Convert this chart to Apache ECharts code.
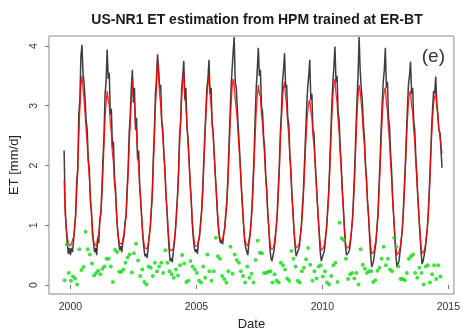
<!DOCTYPE html>
<html>
<head>
<meta charset="utf-8">
<title>US-NR1 ET estimation</title>
<script src="https://cdn.jsdelivr.net/npm/echarts@6/dist/echarts.min.js"></script>
<style>
  html, body { margin: 0; padding: 0; background: #fff; }
  #chart { width: 463px; height: 336px; }
</style>
</head>
<body>
<div id="chart"></div>
<script>
// Half-monthly ET series, starting October 1999 (24 samples per year).
const seriesStart = 1999.75;
const stepsPerYear = 24;

// Observed ET [mm/d], one row per year
const etObserved = [
  2.25, 1.3, 0.95, 0.7, 0.52, 0.62,
  0.5, 0.62, 0.55, 0.75, 0.95, 1.2, 1.75, 1.95, 2.85, 3.1, 3.83, 4.02, 3.55, 3.38, 3.1, 2.75, 2.6, 2.1, 1.95, 1.4, 1.25, 0.85, 0.7, 0.55,
  0.62, 0.5, 0.78, 0.7, 1.1, 1.2, 1.6, 2.1, 2.5, 3.2, 3.4, 3.94, 3.45, 3.55, 2.85, 2.95, 2.3, 2.4, 1.8, 1.6, 1.2, 0.9, 0.72, 0.58,
  0.65, 0.55, 0.72, 0.8, 1.05, 1.15, 1.6, 1.95, 2.55, 2.85, 3.3, 3.6, 3.05, 3.3, 2.6, 2.8, 2.1, 2.25, 1.65, 1.4, 1.1, 0.8, 0.62, 0.48,
  0.52, 0.45, 0.6, 0.8, 0.95, 1.25, 1.55, 2.15, 2.6, 3.2, 3.45, 3.86, 3.6, 3.3, 3.35, 2.75, 2.6, 2.2, 1.95, 1.5, 1.25, 0.9, 0.6, 0.4,
  0.45, 0.38, 0.55, 0.7, 0.9, 1.2, 1.5, 1.9, 2.5, 2.75, 3.3, 3.5, 3.75, 3.1, 3.3, 2.65, 2.45, 2.1, 1.7, 1.45, 1.05, 0.8, 0.62, 0.55,
  0.6, 0.52, 0.72, 0.8, 1.05, 1.25, 1.6, 2.05, 2.5, 2.9, 3.3, 3.45, 3.77, 3.2, 3.3, 2.7, 2.55, 2.2, 1.85, 1.55, 1.2, 0.95, 0.78, 0.7,
  0.75, 0.68, 0.85, 0.95, 1.2, 1.4, 1.8, 2.3, 2.8, 3.3, 3.6, 3.9, 4.15, 3.4, 3.3, 2.95, 2.6, 2.3, 1.95, 1.6, 1.3, 1.0, 0.72, 0.62,
  0.6, 0.5, 0.7, 0.8, 1.05, 1.3, 1.75, 2.2, 2.8, 3.3, 3.6, 3.97, 3.5, 3.6, 3.0, 2.9, 2.5, 2.3, 1.85, 1.6, 1.2, 0.95, 0.62, 0.45,
  0.4, 0.5, 0.58, 0.75, 0.95, 1.2, 1.6, 2.0, 2.55, 2.9, 3.4, 3.6, 3.88, 3.3, 3.35, 2.8, 2.7, 2.2, 1.95, 1.5, 1.25, 0.9, 0.65, 0.48,
  0.5, 0.58, 0.62, 0.82, 0.98, 1.3, 1.6, 2.05, 2.5, 2.95, 3.3, 3.5, 3.77, 3.1, 3.2, 2.6, 2.55, 2.1, 1.8, 1.45, 1.15, 0.85, 0.55, 0.4,
  0.42, 0.52, 0.58, 0.78, 0.95, 1.25, 1.55, 2.0, 2.5, 3.0, 3.4, 3.65, 3.99, 3.4, 3.5, 2.9, 2.75, 2.3, 2.0, 1.6, 1.3, 0.95, 0.65, 0.5,
  0.48, 0.55, 0.6, 0.75, 0.95, 1.2, 1.6, 2.05, 2.6, 3.1, 3.5, 4.15, 3.6, 3.3, 3.1, 2.7, 2.5, 2.05, 1.8, 1.4, 1.15, 0.8, 0.5, 0.3,
  0.35, 0.42, 0.58, 0.7, 0.95, 1.2, 1.65, 2.1, 2.6, 3.05, 3.4, 3.6, 3.97, 3.3, 3.4, 2.8, 2.65, 2.2, 1.9, 1.45, 1.15, 0.8, 0.5, 0.3,
  0.28, 0.4, 0.55, 0.72, 0.9, 1.2, 1.6, 2.0, 2.5, 2.95, 3.35, 3.5, 3.74, 3.2, 3.3, 2.75, 2.6, 2.15, 1.85, 1.45, 1.15, 0.85, 0.55, 0.35,
  0.4, 0.5, 0.6, 0.78, 0.95, 1.25, 1.65, 2.1, 2.6, 2.95, 3.25, 3.2, 3.49, 3.05, 2.85, 2.6, 2.55, 2.25, 1.96
];

// ET estimated by the HPM model trained at ER-BT [mm/d]
const etModelled = [
  1.75, 1.2, 0.95, 0.8, 0.7, 0.72,
  0.65, 0.7, 0.68, 0.8, 0.95, 1.15, 1.55, 1.9, 2.5, 2.95, 3.35, 3.5, 3.3, 3.1, 2.85, 2.6, 2.35, 2.05, 1.8, 1.5, 1.2, 0.95, 0.75, 0.68,
  0.7, 0.65, 0.8, 0.85, 1.05, 1.2, 1.5, 1.9, 2.35, 2.8, 3.05, 3.25, 3.1, 3.0, 2.7, 2.55, 2.2, 2.05, 1.7, 1.5, 1.15, 0.92, 0.75, 0.7,
  0.72, 0.68, 0.78, 0.85, 1.0, 1.15, 1.5, 1.85, 2.35, 2.7, 3.1, 3.45, 3.15, 3.05, 2.7, 2.55, 2.15, 2.0, 1.65, 1.4, 1.1, 0.85, 0.7, 0.62,
  0.6, 0.6, 0.68, 0.82, 0.95, 1.2, 1.5, 2.0, 2.45, 3.0, 3.3, 3.75, 3.55, 3.2, 3.0, 2.7, 2.5, 2.2, 1.9, 1.55, 1.25, 0.95, 0.7, 0.58,
  0.55, 0.58, 0.62, 0.75, 0.92, 1.15, 1.45, 1.85, 2.35, 2.7, 3.15, 3.4, 3.55, 3.15, 3.0, 2.7, 2.4, 2.1, 1.75, 1.45, 1.1, 0.88, 0.72, 0.65,
  0.68, 0.65, 0.75, 0.85, 1.0, 1.2, 1.5, 1.95, 2.4, 2.8, 3.15, 3.35, 3.5, 3.2, 3.0, 2.7, 2.5, 2.15, 1.85, 1.55, 1.25, 1.0, 0.82, 0.75,
  0.78, 0.75, 0.85, 0.95, 1.15, 1.35, 1.7, 2.15, 2.6, 3.0, 3.3, 3.45, 3.35, 3.1, 2.95, 2.75, 2.45, 2.2, 1.9, 1.55, 1.25, 0.98, 0.78, 0.7,
  0.68, 0.65, 0.75, 0.85, 1.0, 1.25, 1.6, 2.05, 2.5, 2.9, 3.15, 3.35, 3.2, 3.15, 2.85, 2.7, 2.4, 2.15, 1.8, 1.55, 1.2, 0.95, 0.72, 0.6,
  0.58, 0.6, 0.68, 0.8, 0.95, 1.15, 1.5, 1.9, 2.4, 2.75, 3.1, 3.3, 3.4, 3.15, 3.0, 2.7, 2.5, 2.15, 1.85, 1.5, 1.2, 0.92, 0.72, 0.62,
  0.6, 0.65, 0.7, 0.82, 0.98, 1.2, 1.5, 1.9, 2.3, 2.65, 2.9, 3.05, 3.1, 2.9, 2.8, 2.5, 2.35, 2.05, 1.75, 1.45, 1.15, 0.9, 0.68, 0.58,
  0.58, 0.62, 0.68, 0.8, 0.95, 1.2, 1.5, 1.9, 2.35, 2.8, 3.15, 3.35, 3.45, 3.2, 3.05, 2.75, 2.55, 2.2, 1.9, 1.55, 1.25, 0.95, 0.72, 0.62,
  0.6, 0.62, 0.68, 0.8, 0.95, 1.15, 1.5, 1.9, 2.4, 2.85, 3.15, 3.35, 3.25, 3.05, 2.85, 2.55, 2.35, 2.0, 1.75, 1.4, 1.15, 0.88, 0.65, 0.52,
  0.5, 0.55, 0.65, 0.75, 0.95, 1.15, 1.55, 1.95, 2.4, 2.8, 3.1, 3.25, 3.3, 3.05, 2.9, 2.6, 2.4, 2.05, 1.75, 1.4, 1.1, 0.85, 0.62, 0.5,
  0.48, 0.55, 0.62, 0.75, 0.9, 1.15, 1.5, 1.9, 2.35, 2.75, 3.05, 3.2, 3.25, 3.0, 2.9, 2.6, 2.4, 2.05, 1.75, 1.45, 1.15, 0.88, 0.65, 0.52,
  0.52, 0.58, 0.65, 0.78, 0.95, 1.2, 1.55, 2.0, 2.45, 2.8, 3.05, 3.15, 3.2, 3.0, 2.85, 2.6, 2.5, 2.35, 2.2
];

// Monthly absolute difference between observed and estimated ET, from October 1999
const gapStart = 1999.77;
const gapStepsPerYear = 12;
const etGap = [
  0.08, 0.68, 0.2, 0.07, 0.14, 0.11, 0.01, 0.6, 0.25, 0.3, 0.89, 0.6, 0.51, 0.36, 0.16, 0.2, 0.24, 0.18, 0.27, 0.31,
  0.44, 0.44, 0.31, 0.05, 0.59, 0.55, 0.22, 0.22, 0.26, 0.37, 0.46, 0.51, 0.21, 0.53, 0.69, 0.41, 0.15, 0.26, 0.05, 0.01, 0.31,
  0.29, 0.15, 0.37, 0.23, 0.31, 0.37, 0.2, 0.58, 0.37, 0.23, 0.18, 0.12, 0.26, 0.16, 0.33, 0.5, 0.36, 0.05, 0.07, 0.4,
  0.31, 0.26, 0.2, 0.07, 0.04, 0.31, 0.12, 0.51, 0.23, 0.07, 0.23, 0.79, 0.48, 0.44, 0.15, 0.1, 0.04, 0.23, 0.64, 0.19,
  0.51, 0.42, 0.37, 0.23, 0.15, 0.04, 0.31, 0.12, 0.19,
  0.04, 0.42, 0.74, 0.54, 0.53, 0.2, 0.2, 0.22, 0.23, 0.04, 0.18, 0.07, 0.04, 0.37, 0.33, 0.26, 0.11, 0.07, 0.57, 0.44,
  0.31, 0.07, 0.04, 0.23, 0.29, 0.43, 0.62, 0.34, 0.07, 0.23, 0.11, 0.31, 0.33, 0.14, 0.23, 0.04, 0.01, 0.15, 0.33, 0.37,
  0.05, 1.04, 0.78, 0.75, 0.44, 0.1, 0.18, 0.2, 0.11,
  0.2, 0.01, 0.6, 0.34, 0.27, 0.2, 0.23, 0.23, 0.05, 0.08, 0.24, 0.29, 0.44, 0.64, 0.33, 0.44, 0.26, 0.23, 0.79, 0.64,
  0.31, 0.1, 0.1, 0.08, 0.2, 0.44, 0.48, 0.51, 0.2, 0.12, 0.29, 0.2, 0.01, 0.31, 0.33, 0.04, 0.18, 0.33, 0.1, 0.33, 0.14
];

const yearTicks = [2000, 2005, 2010, 2015];
const etTicks = [0, 1, 2, 3, 4];

const toPairs = (vals, start, perYear) => vals.map((v, k) => [start + k / perYear, v]);

const font = "'Liberation Sans', Arial, sans-serif";
const chart = echarts.init(document.getElementById('chart'), null, { renderer: 'canvas' });

chart.setOption({
  animation: false,
  backgroundColor: '#ffffff',
  title: {
    text: 'US-NR1 ET estimation from HPM trained at ER-BT',
    left: 252,
    top: 8,
    textAlign: 'center',
    textStyle: { fontFamily: font, fontSize: 14, fontWeight: 'bold', color: '#1a1a1a' }
  },
  graphic: [{
    type: 'text',
    right: 18,
    top: 47,
    style: { text: '(e)', font: "19px " + font, fill: '#333' }
  }],
  grid: {
    left: 48, right: 8, top: 36, bottom: 42,
    show: true, borderColor: '#8a8a8a', borderWidth: 1, backgroundColor: 'transparent'
  },
  xAxis: {
    type: 'value',
    min: 1999.15,
    max: 2015.22,
    name: 'Date',
    nameLocation: 'middle',
    nameGap: 24,
    nameTextStyle: { fontFamily: font, fontSize: 13, color: '#222' },
    axisLine: { show: false },
    axisTick: { show: true, customValues: yearTicks, length: 4, lineStyle: { color: '#777' } },
    axisLabel: {
      customValues: yearTicks, margin: 8,
      fontFamily: font, fontSize: 10.5, color: '#333',
      formatter: v => String(v)
    },
    splitLine: { show: false }
  },
  yAxis: {
    type: 'value',
    min: -0.151,
    max: 4.167,
    name: 'ET [mm/d]',
    nameLocation: 'middle',
    nameGap: 28,
    nameRotate: 90,
    nameTextStyle: { fontFamily: font, fontSize: 13, color: '#222' },
    axisLine: { show: false },
    axisTick: { show: true, customValues: etTicks, length: 4, lineStyle: { color: '#777' } },
    axisLabel: {
      customValues: etTicks, rotate: 90, margin: 9,
      fontFamily: font, fontSize: 10.5, color: '#333',
      formatter: v => String(v)
    },
    splitLine: { show: false }
  },
  series: [
    {
      name: 'observed',
      type: 'line',
      data: toPairs(etObserved, seriesStart, stepsPerYear),
      showSymbol: false,
      clip: true,
      lineStyle: { color: '#1c1c1c', width: 1.5, opacity: 0.85 },
      z: 2
    },
    {
      name: 'estimated',
      type: 'line',
      data: toPairs(etModelled, seriesStart, stepsPerYear),
      showSymbol: false,
      clip: true,
      lineStyle: { color: '#ff0000', width: 1.3, opacity: 0.85 },
      z: 3
    },
    {
      name: 'difference',
      type: 'scatter',
      data: toPairs(etGap, gapStart, gapStepsPerYear),
      symbolSize: 4,
      itemStyle: { color: '#14d814' },
      z: 4
    }
  ]
});
</script>
</body>
</html>
